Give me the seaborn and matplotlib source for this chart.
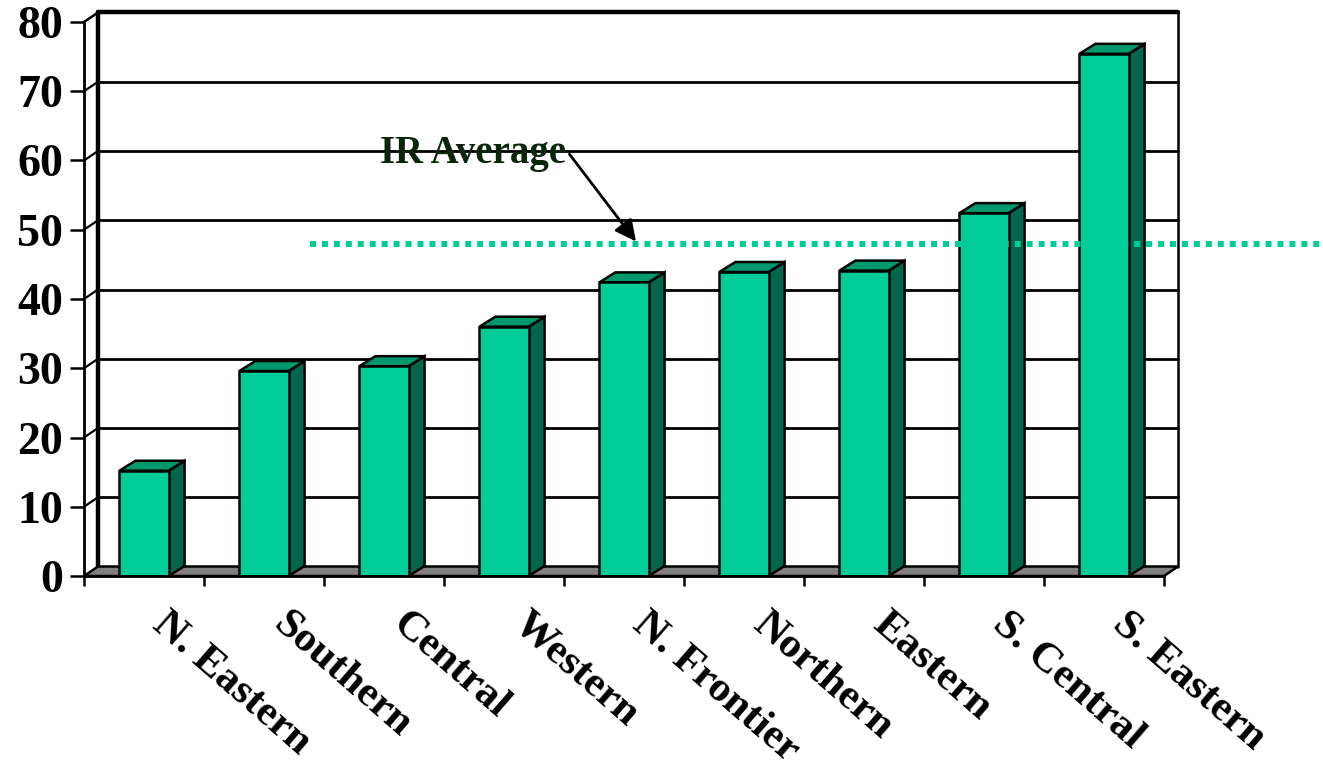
import matplotlib
matplotlib.use("Agg")
import matplotlib.pyplot as plt
import seaborn as sns
import pandas as pd
import numpy as np
from matplotlib.patches import Polygon

# ---- data ----
regions = ["N. Eastern", "Southern", "Central", "Western", "N. Frontier",
           "Northern", "Eastern", "S. Central", "S. Eastern"]
values = [15.2, 29.6, 30.3, 36.0, 42.4, 43.9, 44.1, 52.4, 75.4]
ir_average = 48.0
yticks = [0, 10, 20, 30, 40, 50, 60, 70, 80]
annot_text = "IR Average"

# ---- style ----
sns.set_style("white")
plt.rcParams['font.family'] = ['Liberation Serif', 'DejaVu Serif']
plt.rcParams['font.weight'] = 'bold'
plt.rcParams['text.color'] = 'black'
plt.rcParams['xtick.color'] = 'black'
plt.rcParams['ytick.color'] = 'black'
plt.rcParams['xtick.labelcolor'] = 'black'
plt.rcParams['ytick.labelcolor'] = 'black'

FRONT = "#00CC99"
TOP = "#00996E"
SIDE = "#00664C"
FLOOR = "#808080"

W, H = 1323, 775
fig = plt.figure(figsize=(W / 100, H / 100), dpi=100)
ax_l, ax_r, ax_b, ax_t = 84, 1164, 576, 22
ax = fig.add_axes([ax_l / W, 1 - ax_b / H, (ax_r - ax_l) / W, (ax_b - ax_t) / H])

df = pd.DataFrame({"region": regions, "value": values})
sns.barplot(data=df, x="region", y="value", color=FRONT, saturation=1,
            width=0.41, edgecolor="black", linewidth=1.8, ax=ax, zorder=4)

ax.set_xlim(-0.5, len(regions) - 0.5)
ax.set_ylim(0, 80)
ax.set_xlabel("")
ax.set_ylabel("")

px_per_cat = (ax_r - ax_l) / len(regions)
px_per_unit = (ax_b - ax_t) / 80.0

# wall depth offset (px) and bar depth offset (px)
wdx, wdy = 14 / px_per_cat, 9.5 / px_per_unit
bdx, bdy = 16 / px_per_cat, 10 / px_per_unit

x0, x1 = -0.5, len(regions) - 0.5

# back wall gridlines
for yv in yticks[1:-1]:
    ax.plot([x0 + wdx, x1 + wdx], [yv + wdy, yv + wdy], color="black", lw=2,
            zorder=0.5, clip_on=False)
    ax.plot([x0, x0 + wdx], [yv, yv + wdy], color="black", lw=1.6,
            zorder=0.5, clip_on=False)
# wall border
ax.plot([x0 + wdx, x0 + wdx], [wdy, 80 + wdy], color="black", lw=3.2, zorder=0.6, clip_on=False)
ax.plot([x0 + wdx, x1 + wdx], [80 + wdy, 80 + wdy], color="black", lw=3.2, zorder=0.6, clip_on=False)
ax.plot([x1 + wdx, x1 + wdx], [wdy, 80 + wdy], color="black", lw=1.8, zorder=0.6, clip_on=False)
ax.plot([x0, x0 + wdx], [80, 80 + wdy], color="black", lw=1.8, zorder=0.6, clip_on=False)

# floor
floor = Polygon([[x0, 0], [x1, 0], [x1 + wdx, wdy], [x0 + wdx, wdy]], closed=True,
                facecolor=FLOOR, edgecolor="black", lw=1.8, zorder=1, clip_on=False)
ax.add_patch(floor)

# 3D faces for bars
for p in ax.patches:
    if not isinstance(p, matplotlib.patches.Rectangle):
        continue
    if p.get_height() <= 0:
        continue
    bx, bw, bh = p.get_x(), p.get_width(), p.get_height()
    side = Polygon([[bx + bw, 0], [bx + bw + bdx, bdy], [bx + bw + bdx, bh + bdy], [bx + bw, bh]],
                   closed=True, facecolor=SIDE, edgecolor="black", lw=1.8, zorder=3.9)
    top = Polygon([[bx, bh], [bx + bdx, bh + bdy], [bx + bw + bdx, bh + bdy], [bx + bw, bh]],
                  closed=True, facecolor=TOP, edgecolor="black", lw=1.8, zorder=3.9)
    ax.add_patch(side)
    ax.add_patch(top)

# spines
for s in ["top", "right"]:
    ax.spines[s].set_visible(False)
for s in ["left", "bottom"]:
    ax.spines[s].set_linewidth(2)
    ax.spines[s].set_color("black")
    ax.spines[s].set_zorder(6)

ax.set_yticks(yticks)
ax.set_yticklabels([str(v) for v in yticks], fontsize=33, fontweight="bold", color="black")
ax.tick_params(axis="y", direction="out", length=10, width=1.8, pad=5, left=True,
               colors="black")
ax.set_xticks(np.arange(len(regions) + 1) - 0.5)
ax.set_xticklabels([])
ax.tick_params(axis="x", direction="out", length=7, width=1.8, bottom=True, colors="black")

# category labels
for i, lab in enumerate(regions):
    ax.text(i + 0.22, -0.052, lab, transform=ax.get_xaxis_transform(),
            rotation=-41, rotation_mode="anchor", ha="left", va="top",
            fontsize=31, fontweight="bold", color="black")

# IR average dotted line
ax.plot([1.383, 9.83], [ir_average, ir_average], color=FRONT, lw=4.3,
        linestyle=(0, (1, 1)), dash_capstyle="butt", zorder=7, clip_on=False)

ax.annotate(annot_text, xy=(4.1, ir_average + 0.3), xytext=(1.967, 61.0),
            textcoords="data", ha="left", va="center",
            fontsize=28, fontweight="bold", color="#0A260A", zorder=8,
            arrowprops=dict(arrowstyle="-|>", color="black", lw=2,
                            mutation_scale=32, shrinkA=0, shrinkB=0,
                            relpos=(1.0, 0.6)))

fig.savefig("out.png", dpi=100)
